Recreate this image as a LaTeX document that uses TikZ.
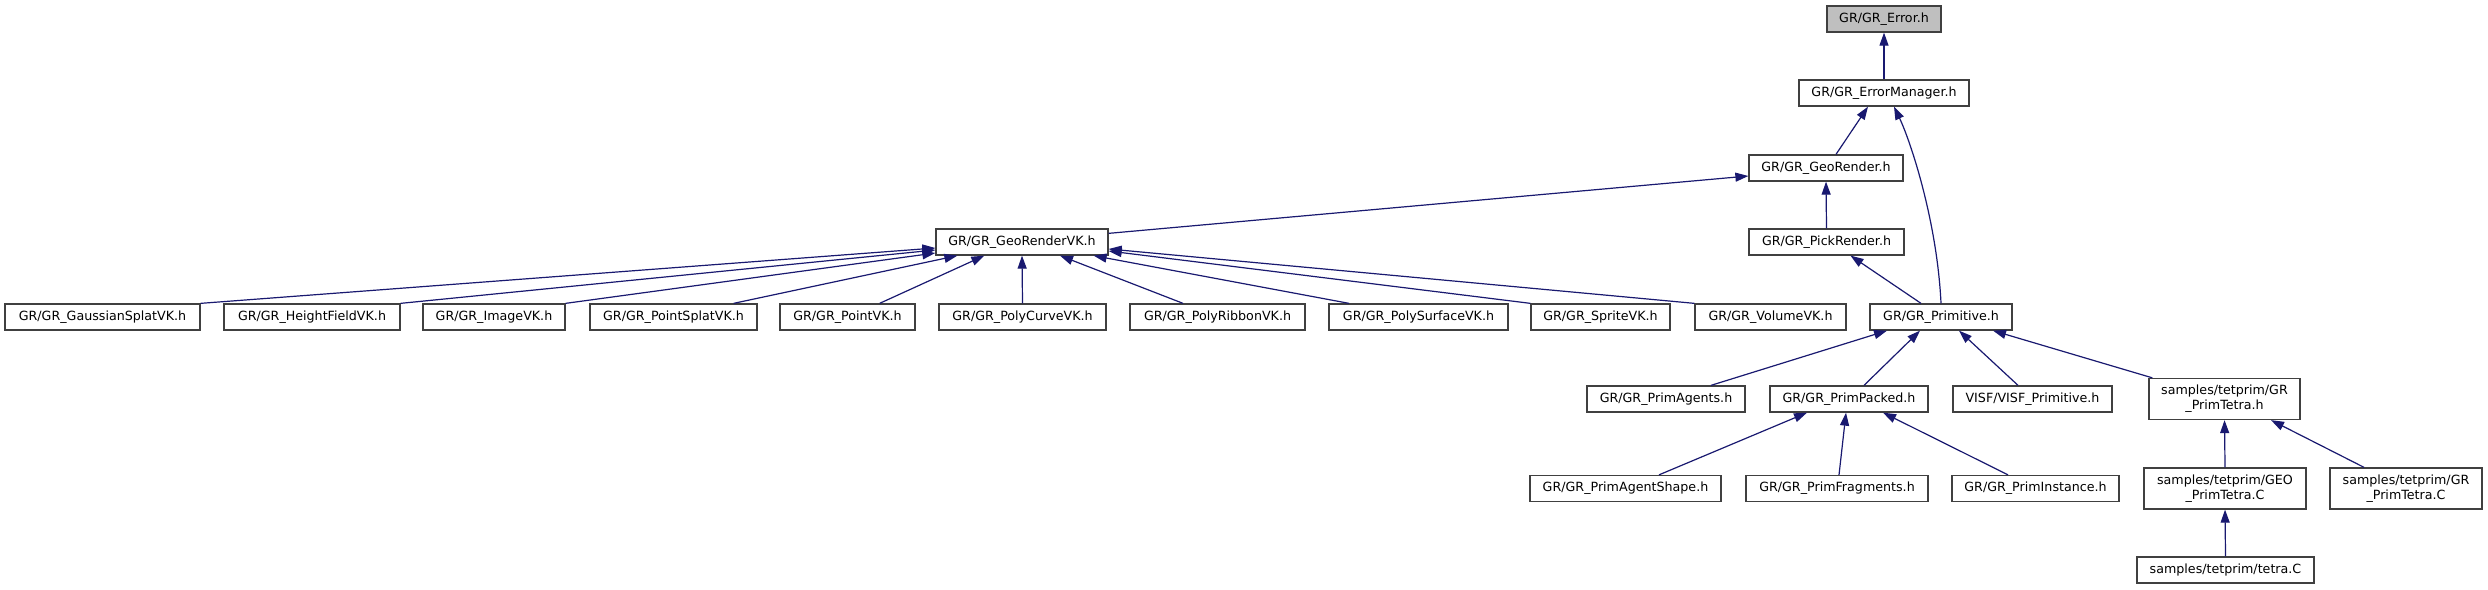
\documentclass[tikz,border=0pt]{standalone}
\usepackage{fontspec}
\newfontfamily\dv{DejaVu Sans}
\usetikzlibrary{arrows.meta,calc}
\definecolor{edgeblue}{RGB}{25,25,112}
\definecolor{nodeborder}{RGB}{64,64,64}
\definecolor{rootfill}{RGB}{191,191,191}
\tikzset{
  box/.style={draw=nodeborder, line width=1.3pt, fill=white, inner sep=0pt,
    minimum height=26pt, font={\dv\fontsize{12.67}{15}\selectfont}, text=black, align=center},
  tallbox/.style={box, minimum height=41pt},
  edge/.style={draw=edgeblue, line width=1.2pt, {Triangle[length=13pt,width=9pt]}-}
}
\begin{document}
\begin{tikzpicture}[x=1pt,y=-1pt]
\useasboundingbox[fill=white] (0,0) rectangle (2488,589);
% row 1-4
\node[box, fill=rootfill, minimum width=114pt] (err) at (1884,19) {GR/GR\_Error.h};
\node[box, minimum width=170pt] (em) at (1884,93) {GR/GR\_ErrorManager.h};
\node[box, minimum width=154pt] (gr) at (1826,168) {GR/GR\_GeoRender.h};
\node[box, minimum width=155pt] (pick) at (1826.5,242) {GR/GR\_PickRender.h};
\node[box, minimum width=172pt] (gvk) at (1022,242) {GR/GR\_GeoRenderVK.h};
% row 5
\node[box, minimum width=195pt] (gauss) at (102.5,317) {GR/GR\_GaussianSplatVK.h};
\node[box, minimum width=176pt] (height) at (312,317) {GR/GR\_HeightFieldVK.h};
\node[box, minimum width=142pt] (image) at (494,317) {GR/GR\_ImageVK.h};
\node[box, minimum width=167pt] (psplat) at (673.5,317) {GR/GR\_PointSplatVK.h};
\node[box, minimum width=135pt] (point) at (847.5,317) {GR/GR\_PointVK.h};
\node[box, minimum width=167pt] (pcurve) at (1022.5,317) {GR/GR\_PolyCurveVK.h};
\node[box, minimum width=175pt] (pribbon) at (1217.5,317) {GR/GR\_PolyRibbonVK.h};
\node[box, minimum width=179pt] (psurf) at (1418.5,317) {GR/GR\_PolySurfaceVK.h};
\node[box, minimum width=139pt] (sprite) at (1600.5,317) {GR/GR\_SpriteVK.h};
\node[box, minimum width=151pt] (volume) at (1770.5,317) {GR/GR\_VolumeVK.h};
\node[box, minimum width=142pt] (prim) at (1941,317) {GR/GR\_Primitive.h};
% row 6
\node[box, minimum width=158pt] (agents) at (1666,399) {GR/GR\_PrimAgents.h};
\node[box, minimum width=158pt] (packed) at (1849,399) {GR/GR\_PrimPacked.h};
\node[box, minimum width=159pt] (visf) at (2032.5,399) {VISF/VISF\_Primitive.h};
\node[tallbox, minimum width=151pt] (tetrah) at (2224.5,399) {samples/tetprim/GR\\\_PrimTetra.h};
% row 7
\node[box, minimum width=191pt] (ashape) at (1625.5,488.5) {GR/GR\_PrimAgentShape.h};
\node[box, minimum width=182pt] (frag) at (1837,488.5) {GR/GR\_PrimFragments.h};
\node[box, minimum width=167pt] (inst) at (2035.5,488.5) {GR/GR\_PrimInstance.h};
\node[tallbox, minimum width=162pt] (geoc) at (2225,488.5) {samples/tetprim/GEO\\\_PrimTetra.C};
\node[tallbox, minimum width=152pt] (grc) at (2406,488.5) {samples/tetprim/GR\\\_PrimTetra.C};
% row 8
\node[box, minimum width=177pt] (tetrac) at (2225.5,570) {samples/tetprim/tetra.C};
% edges (arrow at the included file)
\draw[edge] (err.south) -- (em.north);
\draw[edge] ($(em.south)+(-16,0)$) -- ($(gr.north)+(10,0)$);
\draw[edge] ($(em.south)+(10,0)$) .. controls (1910,140) and (1937,220) .. (prim.north);
\draw[edge] ($(gr.west)+(0,8)$) -- ($(gvk.north east)+(0,5)$);
\draw[edge] (gr.south) -- (pick.north);
\draw[edge] ($(pick.south)+(24,0)$) -- ($(prim.north)+(-20,0)$);
\draw[edge] ($(gvk.west)+(0,6)$) -- (gauss.north east);
\draw[edge] ($(gvk.west)+(0,8)$) -- (height.north east);
\draw[edge] ($(gvk.west)+(0,11)$) -- (image.north east);
\draw[edge] ($(gvk.south west)+(22,0)$) -- ($(psplat.north east)+(-24,0)$);
\draw[edge] ($(gvk.south west)+(49,0)$) -- ($(point.north east)+(-36,0)$);
\draw[edge] (gvk.south) -- (pcurve.north);
\draw[edge] ($(gvk.south)+(38,0)$) -- ($(pribbon.north)+(-34.5,0)$);
\draw[edge] ($(gvk.south east)+(-15,0)$) -- ($(psurf.north)+(-69.5,0)$);
\draw[edge] ($(gvk.east)+(0,9)$) -- (sprite.north west);
\draw[edge] ($(gvk.east)+(0,7)$) -- (volume.north west);
\draw[edge] ($(prim.south)+(-54,0)$) -- ($(agents.north)+(45,0)$);
\draw[edge] ($(prim.south)+(-21,0)$) -- ($(packed.north)+(15,0)$);
\draw[edge] ($(prim.south)+(18,0)$) -- ($(visf.north)+(-14.5,0)$);
\draw[edge] ($(prim.south)+(52,0)$) -- ($(tetrah.north west)+(4,0)$);
\draw[edge] ($(packed.south)+(-42,0)$) -- ($(ashape.north)+(33.5,0)$);
\draw[edge] ($(packed.south)+(-3,0)$) -- ($(frag.north)+(2,0)$);
\draw[edge] ($(packed.south)+(34,0)$) -- ($(inst.north)+(-27.5,0)$);
\draw[edge] (tetrah.south) -- (geoc.north);
\draw[edge] ($(tetrah.south)+(46.5,0)$) -- ($(grc.north)+(-42,0)$);
\draw[edge] (geoc.south) -- (tetrac.north);
\end{tikzpicture}
\end{document}
